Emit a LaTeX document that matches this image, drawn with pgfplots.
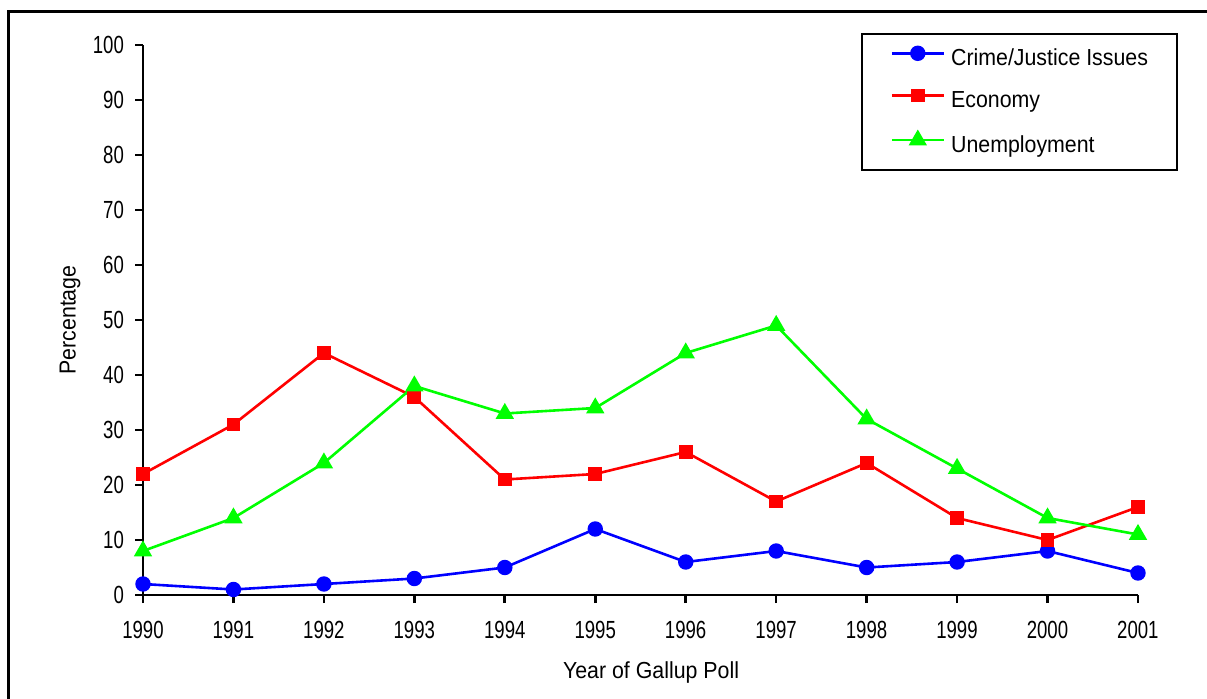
\documentclass[border=0pt]{standalone}
\usepackage{pgfplots}
\pgfplotsset{compat=1.18}
\usepackage{fontspec}
\setmainfont{Liberation Sans}[FakeStretch=0.92]
\newfontfamily\tickfont{Liberation Sans}[FakeStretch=0.75]
\definecolor{cblue}{RGB}{0,0,255}
\definecolor{cred}{RGB}{255,0,0}
\definecolor{cgreen}{RGB}{0,255,0}
\begin{document}
\begin{tikzpicture}
\useasboundingbox (-71.5pt,-51.5pt) rectangle (532pt,297.5pt);
\draw[line width=1.5pt] (-67pt,-60pt) -- (-67pt,292pt) -- (540pt,292pt);
\begin{axis}[
  at={(0pt,0pt)}, anchor=south west,
  scale only axis, width=497.5pt, height=275pt,
  xmin=1990, xmax=2001, ymin=0, ymax=100,
  axis x line=bottom, axis y line=left,
  axis line style={-, line width=1.3pt, black},
  xtick={1990,...,2001}, ytick={0,10,...,100},
  tick align=outside, major tick length=4pt,
  tick style={line width=1.3pt, black},
  /pgf/number format/assume math mode=true,
  /pgf/number format/1000 sep={},
  tick label style={font=\tickfont\fontsize{12.4}{13}\selectfont},
  xticklabel style={yshift=-5.5pt},
  yticklabel style={xshift=-2pt},
  label style={font=\fontsize{11.6}{13}\selectfont},
  xlabel={Year of Gallup Poll},
  ylabel={Percentage},
  xlabel style={at={(axis description cs:0.5106,-0.14)}, anchor=center},
  ylabel style={at={(axis description cs:-0.0734,0.5)}, anchor=center},
  legend style={at={(axis description cs:1.0402,1.022)}, anchor=north east,
    draw=black, line width=1pt, inner xsep=14.5pt, inner ysep=6.5pt,
    row sep=9.8pt, column sep=3pt,
    nodes={inner sep=0pt, text height=8.5pt, text depth=2.5pt},
    font=\fontsize{11.6}{13}\selectfont},
  legend cell align=left,
  legend image code/.code={\draw[mark repeat=2,mark phase=2,#1] plot coordinates {(0pt,3pt) (13pt,3pt) (26pt,3pt)};},
]
\addplot[color=cblue, line width=1.3pt, mark=*, mark size=3.2pt, mark options={solid}] coordinates {
(1990,2) (1991,1) (1992,2) (1993,3) (1994,5) (1995,12) (1996,6) (1997,8) (1998,5) (1999,6) (2000,8) (2001,4)};
\addlegendentry{Crime/Justice Issues}
\addplot[color=cred, line width=1.3pt, mark=square*, mark size=2.8pt, mark options={solid}] coordinates {
(1990,22) (1991,31) (1992,44) (1993,36) (1994,21) (1995,22) (1996,26) (1997,17) (1998,24) (1999,14) (2000,10) (2001,16)};
\addlegendentry{Economy}
\addplot[color=cgreen, line width=1.3pt, mark=triangle*, mark size=4pt, mark options={solid}] coordinates {
(1990,8) (1991,14) (1992,24) (1993,38) (1994,33) (1995,34) (1996,44) (1997,49) (1998,32) (1999,23) (2000,14) (2001,11)};
\addlegendentry{Unemployment}
\end{axis}
\end{tikzpicture}
\end{document}
